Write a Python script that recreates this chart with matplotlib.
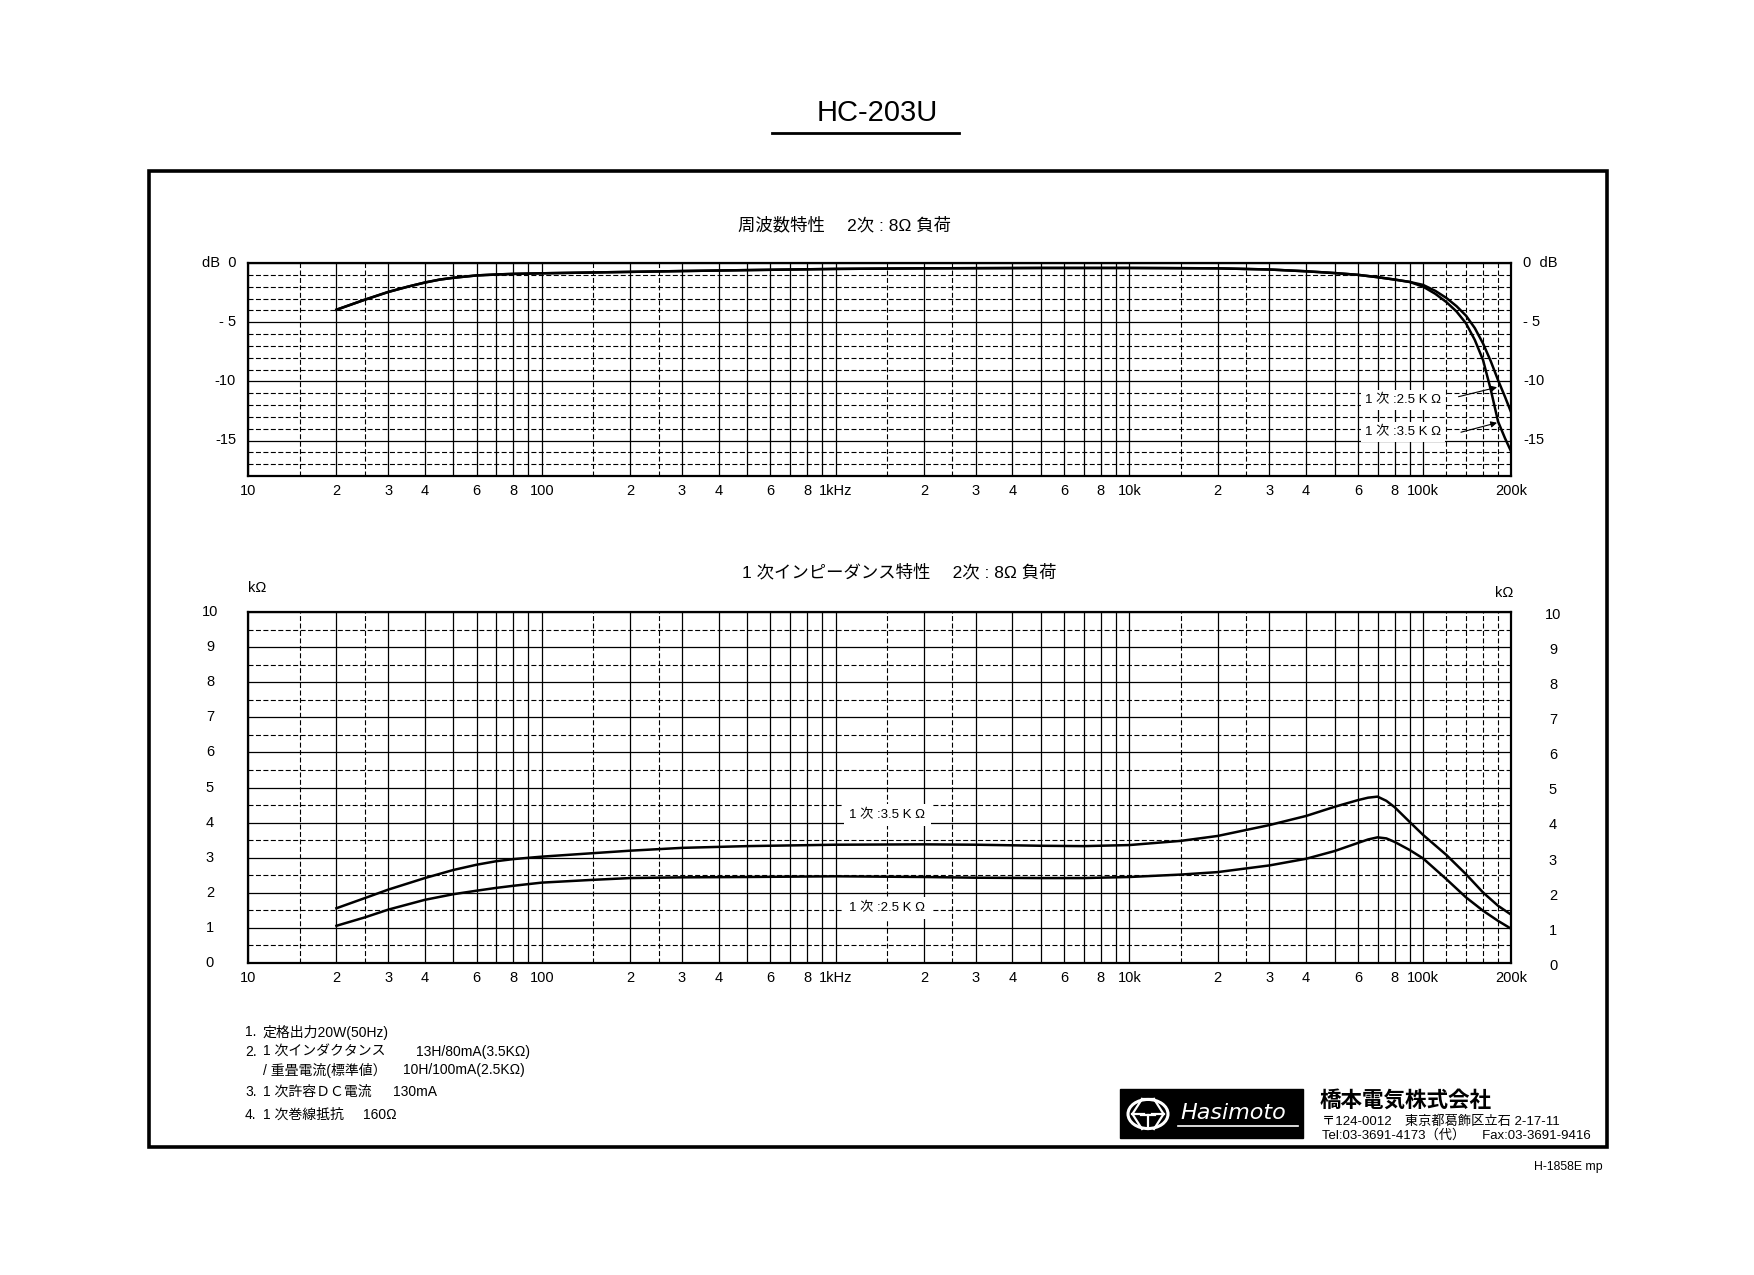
import matplotlib
matplotlib.use("Agg")

import matplotlib.pyplot as plt
import matplotlib.transforms as mtrans
from matplotlib.patches import Rectangle, Circle
from matplotlib.lines import Line2D

plt.rcParams['font.family'] = ['Liberation Sans', 'Noto Sans CJK JP', 'DejaVu Sans']

###------------------------data----------------------------###
# frequency response (dB)
fr_freq = [20, 25, 30, 35, 40, 45, 50, 60, 70, 80, 100, 150, 200, 300, 500,
           1000, 2000, 5000, 10000, 20000, 30000, 40000, 50000, 60000, 70000,
           80000, 90000, 100000, 110000, 120000, 130000, 140000, 150000,
           160000, 170000, 180000, 190000, 200000]
db_25k = [-3.95, -3.1, -2.45, -2.0, -1.65, -1.4, -1.25, -1.05, -0.97, -0.92,
          -0.87, -0.8, -0.75, -0.68, -0.6, -0.5, -0.45, -0.42, -0.42, -0.45,
          -0.55, -0.7, -0.85, -1.0, -1.2, -1.4, -1.6, -1.85, -2.35, -2.95,
          -3.65, -4.45, -5.5, -6.8, -8.3, -9.9, -11.3, -12.7]
db_35k = [-3.95, -3.1, -2.45, -2.0, -1.65, -1.4, -1.25, -1.05, -0.97, -0.92,
          -0.87, -0.8, -0.75, -0.68, -0.6, -0.5, -0.45, -0.42, -0.42, -0.45,
          -0.55, -0.7, -0.85, -1.0, -1.2, -1.4, -1.6, -2.0, -2.6, -3.3,
          -4.1, -5.1, -6.5, -8.2, -10.7, -13.4, -14.8, -16.0]

# primary impedance (kOhm)
imp_freq = [20, 25, 30, 40, 50, 60, 70, 80, 100, 150, 200, 300, 500, 1000,
            2000, 3000, 5000, 7000, 10000, 15000, 20000, 30000, 40000, 50000,
            60000, 65000, 70000, 75000, 80000, 90000, 100000, 120000, 140000,
            160000, 180000, 200000]
z_35k = [1.56, 1.85, 2.09, 2.42, 2.65, 2.8, 2.9, 2.96, 3.03, 3.13, 3.2, 3.28,
         3.33, 3.37, 3.38, 3.37, 3.34, 3.33, 3.36, 3.48, 3.62, 3.93, 4.19,
         4.45, 4.64, 4.71, 4.74, 4.62, 4.44, 4.02, 3.65, 3.08, 2.53, 2.01,
         1.63, 1.37]
z_25k = [1.06, 1.3, 1.52, 1.8, 1.96, 2.06, 2.14, 2.2, 2.29, 2.37, 2.42, 2.44,
         2.45, 2.47, 2.45, 2.43, 2.42, 2.42, 2.45, 2.52, 2.59, 2.78, 2.97,
         3.19, 3.42, 3.52, 3.58, 3.55, 3.45, 3.22, 2.98, 2.39, 1.87, 1.49,
         1.2, 0.97]

# axis ticks / labels
x_major = [m * 10 ** d for d in range(1, 5) for m in range(1, 10)] + [100000, 200000]
x_minor = [m * 10 ** d for d in range(1, 5) for m in (1.5, 2.5)] + [120000, 140000, 160000, 180000]
x_labels = {10: "10", 20: "2", 30: "3", 40: "4", 60: "6", 80: "8",
            100: "100", 200: "2", 300: "3", 400: "4", 600: "6", 800: "8",
            1000: "1kHz", 2000: "2", 3000: "3", 4000: "4", 6000: "6", 8000: "8",
            10000: "10k", 20000: "2", 30000: "3", 40000: "4", 60000: "6", 80000: "8",
            100000: "100k", 200000: "200k"}
db_ticks = [0, -5, -10, -15]
db_left = ["dB  0", "- 5", "-10", "-15"]
db_right = ["0  dB", "- 5", "-10", "-15"]
z_ticks = list(range(0, 11))

notes = [("1.", "定格出力20W(50Hz)", ""),
         ("2.", "1 次インダクタンス", "13H/80mA(3.5KΩ)"),
         ("", "/ 重畳電流(標準値）", "10H/100mA(2.5KΩ)"),
         ("3.", "1 次許容ＤＣ電流", "130mA"),
         ("4.", "1 次巻線抵抗", "160Ω")]

###-----------------------layout---------------------------###
W, H = 1754, 1275


def fx(x):
    return x / W


def fy(y):
    return 1 - y / H


fig = plt.figure(figsize=(W / 100, H / 100), dpi=100, facecolor="white")


def style_axes(ax, y_major, y_minor):
    ax.set_xscale("log")
    ax.set_xlim(10, 200000)
    ax.set_xticks(x_major, [x_labels.get(v, "") for v in x_major])
    ax.set_xticks(x_minor, minor=True)
    ax.set_yticks(y_major)
    ax.set_yticks(y_minor, minor=True)
    ax.xaxis.set_minor_formatter(matplotlib.ticker.NullFormatter())
    ax.tick_params(which="both", length=0, labelleft=False, pad=5.5, labelsize=10.5)
    ax.grid(which="major", color="black", lw=0.9, ls="-")
    ax.grid(which="minor", color="black", lw=0.8, ls=(0, (4.5, 2.2)))
    ax.set_axisbelow(True)
    for s in ax.spines.values():
        s.set_linewidth(1.6)


###------------------frequency response--------------------###
ax1 = fig.add_axes([fx(248), fy(476), (1511.5 - 248) / W, (476 - 263) / H])
style_axes(ax1, db_ticks, [v for v in range(-17, 0) if v % 5 != 0])
ax1.set_ylim(-18, 0)
ax1.plot(fr_freq, db_25k, color="black", lw=1.8, zorder=3)
ax1.plot(fr_freq, db_35k, color="black", lw=1.8, zorder=3)

tl = mtrans.blended_transform_factory(fig.transFigure, ax1.transData)
for v, lab in zip(db_ticks, db_left):
    fig.text(fx(236), 0, lab, transform=tl, ha="right", va="center", fontsize=10.5).set_y(v)
for v, lab in zip(db_ticks, db_right):
    fig.text(fx(1523), 0, lab, transform=tl, ha="left", va="center", fontsize=10.5).set_y(v)

ax1.text(115000, -11.6, "1 次 :2.5 K Ω", ha="right", va="center", fontsize=9.5,
         bbox=dict(boxstyle="square,pad=0.3", fc="white", ec="none"), zorder=2)
ax1.text(115000, -14.3, "1 次 :3.5 K Ω", ha="right", va="center", fontsize=9.5,
         bbox=dict(boxstyle="square,pad=0.3", fc="white", ec="none"), zorder=2)
ax1.annotate("", xy=(178600, -10.5), xytext=(132000, -11.3),
             arrowprops=dict(arrowstyle="-|>", color="black", lw=0.8, mutation_scale=9,
                             shrinkA=0, shrinkB=0))
ax1.annotate("", xy=(178600, -13.5), xytext=(134600, -14.3),
             arrowprops=dict(arrowstyle="-|>", color="black", lw=0.8, mutation_scale=9,
                             shrinkA=0, shrinkB=0))

fig.text(fx(845), fy(225), "周波数特性　 2次 : 8Ω 負荷", ha="center", va="center", fontsize=12.5)

###---------------------impedance--------------------------###
ax2 = fig.add_axes([fx(248), fy(963), (1511.5 - 248) / W, (963 - 612) / H])
style_axes(ax2, z_ticks, [v + 0.5 for v in range(10)])
ax2.set_ylim(0, 10)
ax2.plot(imp_freq, z_35k, color="black", lw=1.8, zorder=3)
ax2.plot(imp_freq, z_25k, color="black", lw=1.8, zorder=3)

tl2 = mtrans.blended_transform_factory(fig.transFigure, ax2.transData)
for v in z_ticks:
    fig.text(fx(210), 0, str(v), transform=tl2, ha="center", va="center", fontsize=10.5).set_y(v)
    fig.text(fx(1553), 0, str(v), transform=tl2, ha="center", va="center", fontsize=10.5).set_y(v - 0.08)

ax2.text(1500, 4.22, "1 次 :3.5 K Ω", ha="center", va="center", fontsize=9.5,
         bbox=dict(boxstyle="square,pad=0.4", fc="white", ec="none"), zorder=2)
ax2.text(1500, 1.57, "1 次 :2.5 K Ω", ha="center", va="center", fontsize=9.5,
         bbox=dict(boxstyle="square,pad=0.4", fc="white", ec="none"), zorder=2)

fig.text(fx(257), fy(588), "kΩ", ha="center", va="center", fontsize=10.5)
fig.text(fx(1504), fy(593), "kΩ", ha="center", va="center", fontsize=10.5)
fig.text(fx(899), fy(572), "1 次インピーダンス特性　 2次 : 8Ω 負荷", ha="center", va="center",
         fontsize=12.5)

###---------------------page frame-------------------------###
fig.text(fx(877), fy(113), "HC-203U", ha="center", va="center", fontsize=21)
fig.add_artist(Line2D([fx(772), fx(959)], [fy(133), fy(133)], color="black", lw=2))
fig.add_artist(Rectangle((fx(149), fy(1147)), (1607 - 149) / W, (1147 - 171) / H,
                         fill=False, ec="black", lw=2.6, transform=fig.transFigure))

###------------------------notes---------------------------###
note_y = [1032, 1052, 1070, 1092, 1115]
note_x2 = [0, 416, 403, 393, 363]
for (num, txt, val), y, x2 in zip(notes, note_y, note_x2):
    fig.text(fx(245), fy(y), num, ha="left", va="center", fontsize=10)
    fig.text(fx(263), fy(y), txt, ha="left", va="center", fontsize=10)
    if val:
        fig.text(fx(x2), fy(y), val, ha="left", va="center", fontsize=10)

###-------------------------logo---------------------------###
fig.add_artist(Rectangle((fx(1120), fy(1138)), (1303 - 1120) / W, (1138 - 1089) / H,
                         fc="black", ec="black", transform=fig.transFigure))
cx, cy, r = 1148, 1114, 20
fig.add_artist(Circle((fx(cx), fy(cy)), r / W, fc="none", ec="white", lw=2.2,
                      transform=fig.transFigure))
emblem = [
    [(-0.3, 0.75), (-0.78, 0.0), (-0.3, -0.75)],
    [(0.3, 0.75), (0.78, 0.0), (0.3, -0.75)],
    [(-0.3, 0.75), (0.3, 0.75)],
    [(-0.78, 0.0), (-0.2, 0.0)], [(0.2, 0.0), (0.78, 0.0)],
    [(-0.35, -0.05), (0.35, -0.05)], [(0.0, -0.05), (0.0, -0.75)],
]
for seg in emblem:
    fig.add_artist(Line2D([fx(cx + p[0] * r) for p in seg], [fy(cy - p[1] * r) for p in seg],
                          color="white", lw=1.6))
fig.text(fx(1180), fy(1113), "Hasimoto", ha="left", va="center", fontsize=16, style="italic",
         color="white", family="DejaVu Sans")
fig.add_artist(Line2D([fx(1178), fx(1298)], [fy(1126), fy(1126)], color="white", lw=1.2))

fig.text(fx(1320), fy(1101), "橋本電気株式会社", ha="left", va="center", fontsize=15.5,
         fontweight="bold")
fig.text(fx(1322), fy(1122), "〒124-0012　東京都葛飾区立石 2-17-11", ha="left", va="center",
         fontsize=9.5)
fig.text(fx(1322), fy(1135), "Tel:03-3691-4173（代）　 Fax:03-3691-9416", ha="left",
         va="center", fontsize=9.5)
fig.text(fx(1603), fy(1167), "H-1858E mp", ha="right", va="center", fontsize=8.8)

plt.savefig("out.png", dpi=100, facecolor="white")
